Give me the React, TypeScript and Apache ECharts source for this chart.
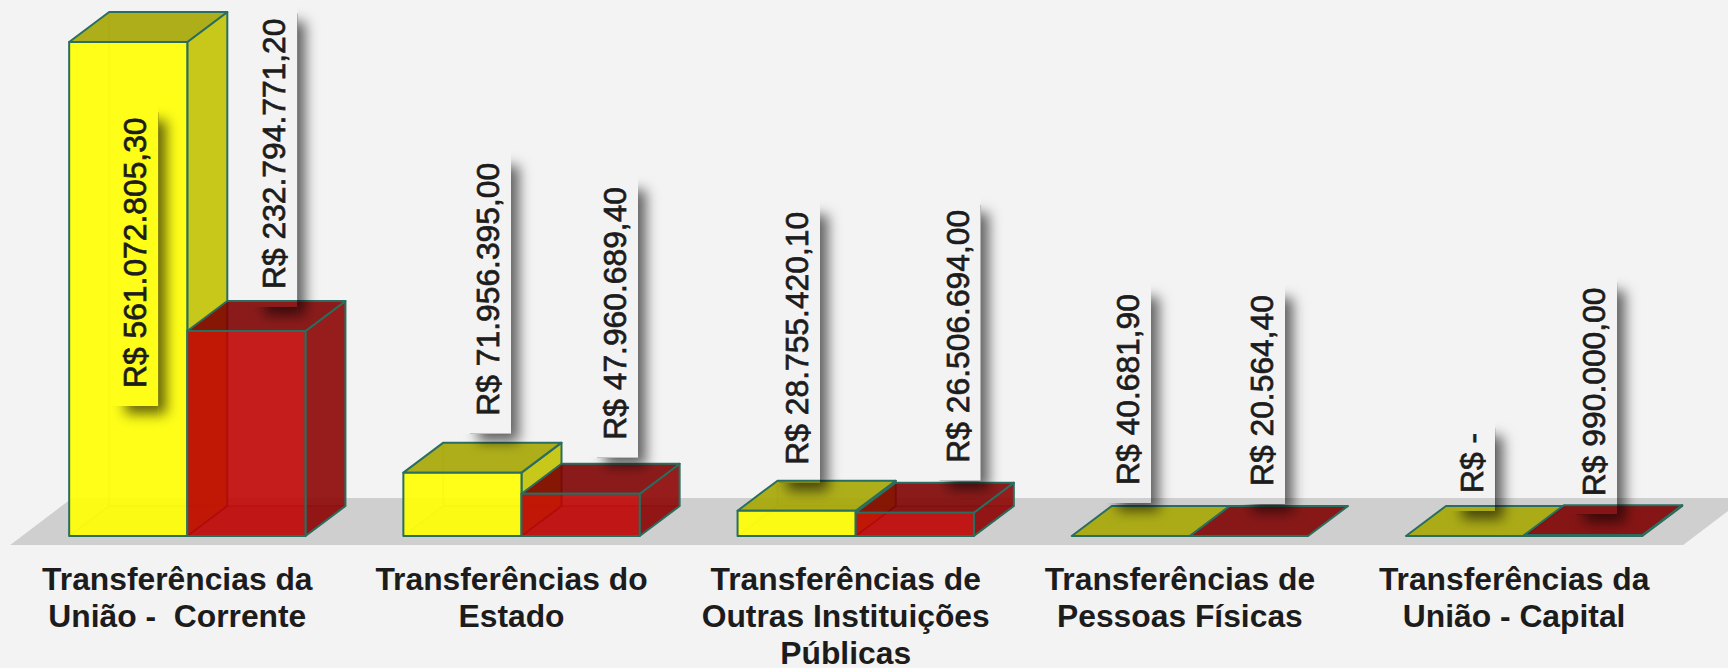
import React, { useEffect, useRef } from "react";
import * as echarts from "echarts";

const categories = [
  "Transferências da\nUnião -  Corrente",
  "Transferências do\nEstado",
  "Transferências de\nOutras Instituições\nPúblicas",
  "Transferências de\nPessoas Físicas",
  "Transferências da\nUnião - Capital",
];
const yellowValues = [561072805.3, 71956395.0, 28755420.1, 40681.9, 0];
const redValues = [232794771.2, 47960689.4, 26506694.0, 20564.4, 990000.0];

// label layout, kept apart from the data: text centre relative to category centre, text start above the bar's front top
const labelDx = [[-52, -33.5, -58.7, -62, -52], [87, 93.5, 102, 72, 70]];
const labelRise = [[-346, 57, 46, 51, 43], [42, 54, 50, 50, 39]];

const EDGE = "#2a6e60";
const DEPTH_X = 40;
const DEPTH_Y = 30;
const BG = "#f3f3f3";
const LABEL_FONT = '400 31.8px "Liberation Sans"';

const palette = [
  { front: "rgba(255,255,0,0.9)", side: "rgba(195,195,2,0.9)", top: "rgba(166,166,2,0.9)", inner: "rgba(120,130,0,0.35)", bottom: "rgba(120,120,0,0.04)" },
  { front: "rgba(192,4,4,0.9)", side: "rgba(141,4,4,0.9)", top: "rgba(127,3,3,0.9)", inner: "rgba(90,0,0,0.35)", bottom: "rgba(60,0,0,0.10)" },
];

function formatMoney(v: number): string {
  if (!v) return "R$ -";
  const [i, d] = v.toFixed(2).split(".");
  return "R$ " + i.replace(/\B(?=(\d{3})+$)/g, ".") + "," + d;
}

let measureCtx: CanvasRenderingContext2D | null = null;
function textWidth(t: string): number {
  if (!measureCtx) measureCtx = document.createElement("canvas").getContext("2d");
  measureCtx!.font = LABEL_FONT;
  return measureCtx!.measureText(t).width;
}

function poly(points: number[][], fill: string, stroke: string, lineWidth: number) {
  return { type: "polygon", shape: { points }, style: { fill, stroke, lineWidth, lineJoin: "round" }, silent: true };
}

function barRenderer(which: number) {
  return (_p: any, api: any) => {
    const c = palette[which];
    const [cx, y0] = api.coord([api.value(0), 0]);
    const yTop = api.coord([api.value(0), api.value(1)])[1];
    const w = api.size([1, 0])[0] * 0.3535;
    const x0 = which === 0 ? cx - w : cx;
    const x1 = x0 + w;
    const dx = DEPTH_X;
    const dy = DEPTH_Y;
    const children: any[] = [];
    if (y0 - yTop > 0.5) {
      children.push(
        poly([[x0, y0], [x1, y0], [x1 + dx, y0 - dy], [x0 + dx, y0 - dy]], c.bottom, c.inner, 1.5),
        { type: "line", shape: { x1: x0 + dx, y1: y0 - dy, x2: x0 + dx, y2: yTop - dy }, style: { stroke: c.inner, lineWidth: 1.5 }, silent: true },
        poly([[x1, y0], [x1 + dx, y0 - dy], [x1 + dx, yTop - dy], [x1, yTop]], c.side, EDGE, 2),
      );
    }
    children.push(poly([[x0, yTop], [x1, yTop], [x1 + dx, yTop - dy], [x0 + dx, yTop - dy]], c.top, EDGE, 2));
    if (y0 - yTop > 0.5) {
      children.push(poly([[x0, y0], [x1, y0], [x1, yTop], [x0, yTop]], c.front, EDGE, 2));
    } else {
      children.push({ type: "line", shape: { x1: x0, y1: y0, x2: x1, y2: y0 }, style: { stroke: EDGE, lineWidth: 2 }, silent: true });
    }
    return { type: "group", children };
  };
}

function floorRenderer(params: any, api: any) {
  const y0 = api.coord([0, 0])[1];
  const cs = params.coordSys;
  const left = cs.x - 10;
  const right = cs.x + cs.width - 8;
  return {
    type: "polygon",
    shape: { points: [[left, y0 + 9], [left + 62, y0 - 38], [right + 62, y0 - 38], [right, y0 + 9]] },
    style: { fill: "#cfcfcf" },
    silent: true,
  };
}

function labelRenderer(_p: any, api: any) {
  const cat = api.value(0);
  const v = api.value(1);
  const s = api.value(2);
  const [cx] = api.coord([cat, 0]);
  const yTop = api.coord([cat, v])[1];
  const tx = cx + labelDx[s][cat];
  const ty = yTop - labelRise[s][cat];
  const text = formatMoney(v);
  const len = textWidth(text);
  const bx = tx - 18;
  const bw = 41;
  const by = ty - len - 5;
  const bh = len + 5 + 18;
  const shadowRect = (clip: any) => ({
    type: "rect",
    shape: { x: bx, y: by, width: bw, height: bh },
    style: { fill: "#000", shadowBlur: 13, shadowColor: "rgba(0,0,0,0.6)", shadowOffsetX: 8, shadowOffsetY: 8 },
    clipPath: { type: "rect", shape: clip },
    silent: true,
  });
  return {
    type: "group",
    children: [
      shadowRect({ x: bx + bw, y: by - 10, width: 40, height: bh + 50 }),
      shadowRect({ x: bx - 10, y: by + bh, width: bw + 10, height: 40 }),
      {
        type: "text",
        x: tx,
        y: ty,
        rotation: Math.PI / 2,
        style: { text, font: LABEL_FONT, fill: "#1c1c1c", stroke: "#1c1c1c", lineWidth: 0.7, align: "left", verticalAlign: "middle" },
        silent: true,
      },
    ],
  };
}

export default function App() {
  const ref = useRef<HTMLDivElement>(null);
  useEffect(() => {
    document.body.style.margin = "0";
    document.body.style.background = BG;
    const chart = echarts.init(ref.current!, undefined, { renderer: "svg" });
    const idx = categories.map((_, i) => i);
    chart.setOption({
      animation: false,
      backgroundColor: BG,
      grid: { left: 20.2, width: 1671, top: 7.7, bottom: 132, containLabel: false, outerBoundsMode: "none" },
      xAxis: {
        type: "category",
        data: categories,
        axisLine: { show: false },
        axisTick: { show: false },
        axisLabel: {
          interval: 0,
          margin: 24.5,
          padding: [0, 20, 0, 0],
          color: "#1c1c1c",
          fontFamily: "Liberation Sans",
          fontWeight: "bold",
          fontSize: 31.8,
          lineHeight: 36.8,
          align: "center",
          verticalAlign: "top",
        },
      },
      yAxis: { type: "value", min: 0, max: 600000000, show: false, splitLine: { show: false } },
      series: [
        { type: "custom", coordinateSystem: "cartesian2d", z: 1, data: [[0, 0]], renderItem: floorRenderer, silent: true },
        { type: "custom", z: 2, data: idx.map((i) => [i, yellowValues[i]]), renderItem: barRenderer(0), encode: { x: 0, y: 1 }, silent: true },
        { type: "custom", z: 3, data: idx.map((i) => [i, redValues[i]]), renderItem: barRenderer(1), encode: { x: 0, y: 1 }, silent: true },
        {
          type: "custom",
          z: 4,
          data: [...idx.map((i) => [i, yellowValues[i], 0]), ...idx.map((i) => [i, redValues[i], 1])],
          renderItem: labelRenderer,
          encode: { x: 0, y: 1 },
          silent: true,
        },
      ],
    });
    return () => chart.dispose();
  }, []);
  return <div ref={ref} style={{ width: 1728, height: 668, position: "absolute", left: 0, top: 0 }} />;
}
